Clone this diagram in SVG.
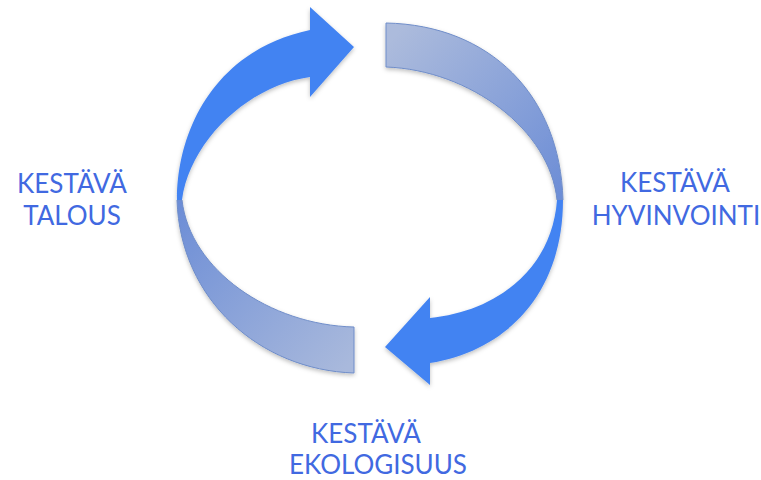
<svg xmlns="http://www.w3.org/2000/svg" width="761" height="480" viewBox="0 0 761 480">
<defs>
<style>
.lbl{font-family:Lato,"Open Sans","Liberation Sans",sans-serif;font-size:26px;fill:#4169E1;text-anchor:middle}
.bright{fill:#4383F2}
.back{stroke:#6F8DC9;stroke-width:1}
</style>
<linearGradient id="gL" gradientUnits="userSpaceOnUse" x1="180" y1="200" x2="354" y2="360">
<stop offset="0" stop-color="#6C8DD6"/>
<stop offset="1" stop-color="#A9B9DC"/>
</linearGradient>
<linearGradient id="gR" gradientUnits="userSpaceOnUse" x1="386" y1="45" x2="560" y2="200">
<stop offset="0" stop-color="#ACBBDC"/>
<stop offset="1" stop-color="#6C8DD6"/>
</linearGradient>
<filter id="sh" x="-10%" y="-10%" width="120%" height="120%">
<feDropShadow dx="0" dy="2" stdDeviation="2" flood-color="#000" flood-opacity="0.25"/>
</filter>
</defs>
<g id="connectors">
<g id="arrow-left" filter="url(#sh)">
<path class="back" fill="url(#gL)" d="M177,200 C180,300 260,370 354,373 L354,327 C270,325 190,270 182,200 Z"/>
<path class="bright" d="M177,200 C177,130 215,50 310,30 L310,7 L354,47 L310,97 L310,77 C250,85 190,140 182,200 Z"/>
</g>
<g id="arrow-right" filter="url(#sh)">
<path class="back" fill="url(#gR)" d="M386,23 C490,25 560,95 563,200 L557,200 C550,130 470,70 386,67 Z"/>
<path class="bright" d="M563,200 C563,290 510,350 430,363 L430,385 L385,347 L430,297 L430,318 C495,312 552,270 557,200 Z"/>
</g>
</g>
<g id="node-talous">
<text class="lbl" x="72" y="193">KESTÄVÄ</text>
<text class="lbl" x="72" y="225">TALOUS</text>
</g>
<g id="node-hyvinvointi">
<text class="lbl" x="675" y="192">KESTÄVÄ</text>
<text class="lbl" x="676" y="225">HYVINVOINTI</text>
</g>
<g id="node-ekologisuus">
<text class="lbl" x="366" y="443">KESTÄVÄ</text>
<text class="lbl" x="378" y="474">EKOLOGISUUS</text>
</g>
</svg>
